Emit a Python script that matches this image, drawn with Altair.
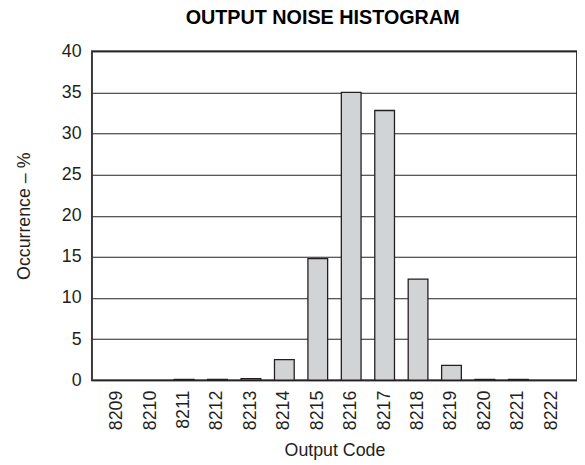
import altair as alt
import pandas as pd

codes = ["8209", "8210", "8211", "8212", "8213", "8214", "8215",
         "8216", "8217", "8218", "8219", "8220", "8221", "8222"]
occurrence = [0, 0, 0.1, 0.1, 0.2, 2.5, 14.8, 35.0, 32.8, 12.3, 1.8, 0.1, 0.1, 0]
y_ticks = [0, 5, 10, 15, 20, 25, 30, 35, 40]

df = pd.DataFrame({"code": codes, "occ": occurrence})

FONT = "Liberation Sans"

chart = alt.Chart(df).transform_filter("datum.occ > 0").mark_bar(
    fill="#d1d3d4", stroke="#231f20", strokeWidth=1.3
).encode(
    x=alt.X("code:N",
            scale=alt.Scale(domain=codes, paddingInner=0.41, paddingOuter=0.46),
            axis=alt.Axis(title="Output Code", labelAngle=270, ticks=False, domain=False,
                          labelPadding=10, titlePadding=12, grid=False)),
    y=alt.Y("occ:Q",
            scale=alt.Scale(domain=[0, 40], nice=False, zero=True),
            axis=alt.Axis(title="Occurrence – %", values=y_ticks, ticks=False, domain=False,
                          labelPadding=11, titlePadding=28, grid=True,
                          gridColor="#231f20", gridWidth=1, gridOpacity=1)),
).properties(
    width=491,
    height=333,
    title=alt.TitleParams("OUTPUT NOISE HISTOGRAM", font=FONT, fontSize=20, fontWeight="bold",
                          color="#000000", anchor="middle", dx=-12, offset=15),
    autosize=alt.AutoSizeParams(type="none"),
    padding={"left": 85, "top": 41, "right": 0, "bottom": 84},
).configure_view(
    stroke="#3a3a3a", strokeWidth=2
).configure_axis(
    labelFont=FONT, titleFont=FONT, labelFontSize=18, titleFontSize=18,
    labelColor="#231f20", titleColor="#231f20", titleFontWeight="normal"
)

chart.save("out.html", embed_options={"renderer": "svg", "actions": False})
